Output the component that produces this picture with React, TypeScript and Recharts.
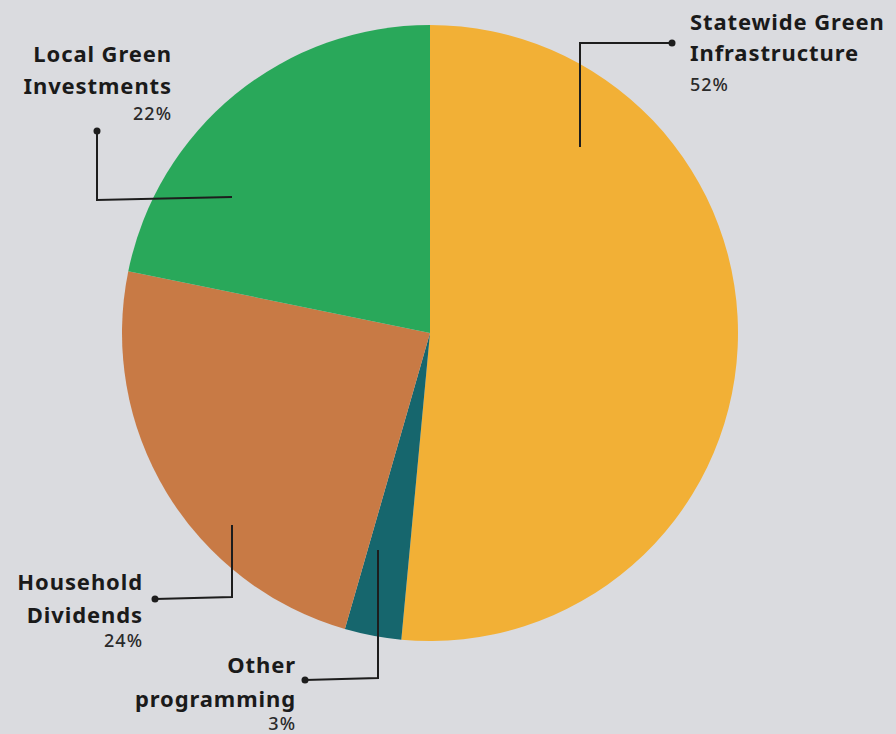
import React from 'react';
import { PieChart, Pie, Cell } from 'recharts';

// ---- data ----
const categories = [
  'Statewide Green Infrastructure',
  'Other programming',
  'Household Dividends',
  'Local Green Investments',
];
const shares = [52, 3, 24, 22];
const percentLabels = ['52%', '3%', '24%', '22%'];
const titleLines = [
  ['Statewide Green', 'Infrastructure'],
  ['Other', 'programming'],
  ['Household', 'Dividends'],
  ['Local Green', 'Investments'],
];
const colors = ['#f2b036', '#16666d', '#c87a45', '#29a85a'];

const data = categories.map((name, i) => ({ name, value: shares[i] }));

// ---- label layout (offsets from the pie centre, in px) ----
type Layout = {
  start: [number, number];
  elbow: [number, number];
  dot: [number, number];
  text: [number, number];
  anchor: 'start' | 'end';
  lineGap: number;
  pctGap: number;
};
const layouts: Layout[] = [
  { start: [150, -186], elbow: [150, -290], dot: [242, -290], text: [260, -303], anchor: 'start', lineGap: 31, pctGap: 30 },
  { start: [-52, 217], elbow: [-52, 345], dot: [-125, 347], text: [-134, 340], anchor: 'end', lineGap: 34, pctGap: 23 },
  { start: [-198, 192], elbow: [-198, 264], dot: [-275, 266], text: [-287, 257], anchor: 'end', lineGap: 33, pctGap: 24 },
  { start: [-198, -136], elbow: [-333, -133], dot: [-333, -202], text: [-258, -271], anchor: 'end', lineGap: 32, pctGap: 26 },
];

const FONT = '"Noto Sans", "Open Sans", sans-serif';

const renderLabel = (props: any) => {
  const { cx, cy, index } = props;
  const L = layouts[index];
  const p = (o: [number, number]) => [cx + o[0], cy + o[1]];
  const [sx, sy] = p(L.start);
  const [ex, ey] = p(L.elbow);
  const [dx, dy] = p(L.dot);
  const [tx, ty] = p(L.text);
  const lines = titleLines[index];
  return (
    <g key={`lbl-${index}`}>
      <polyline
        points={`${sx},${sy} ${ex},${ey} ${dx},${dy}`}
        fill="none"
        stroke="#1d1d1d"
        strokeWidth={2}
      />
      <circle cx={dx} cy={dy} r={3.5} fill="#1d1d1d" />
      {lines.map((t, j) => (
        <text
          key={j}
          x={tx}
          y={ty + j * L.lineGap}
          textAnchor={L.anchor}
          fontFamily={FONT}
          fontWeight={700}
          fontSize={22}
          letterSpacing={0.9}
          fill="#1a1a1a"
        >
          {t}
        </text>
      ))}
      <text
        x={tx}
        y={ty + (lines.length - 1) * L.lineGap + L.pctGap}
        textAnchor={L.anchor}
        fontFamily={FONT}
        fontWeight={500}
        fontSize={18}
        letterSpacing={1}
        fill="#2a2a2a"
      >
        {percentLabels[index]}
      </text>
    </g>
  );
};

export default function App() {
  return (
    <div
      style={{
        position: 'absolute',
        left: 0,
        top: 0,
        width: 896,
        height: 734,
        background: '#dadbdf',
        overflow: 'hidden',
      }}
    >
      <PieChart width={896} height={734} margin={{ top: 0, right: 0, bottom: 0, left: 0 }}>
        <Pie
          data={data}
          dataKey="value"
          nameKey="name"
          cx={430}
          cy={333}
          outerRadius={308}
          startAngle={90}
          endAngle={-270}
          stroke="none"
          isAnimationActive={false}
          label={renderLabel}
          labelLine={false}
        >
          {data.map((d, i) => (
            <Cell key={d.name} fill={colors[i]} />
          ))}
        </Pie>
      </PieChart>
    </div>
  );
}
